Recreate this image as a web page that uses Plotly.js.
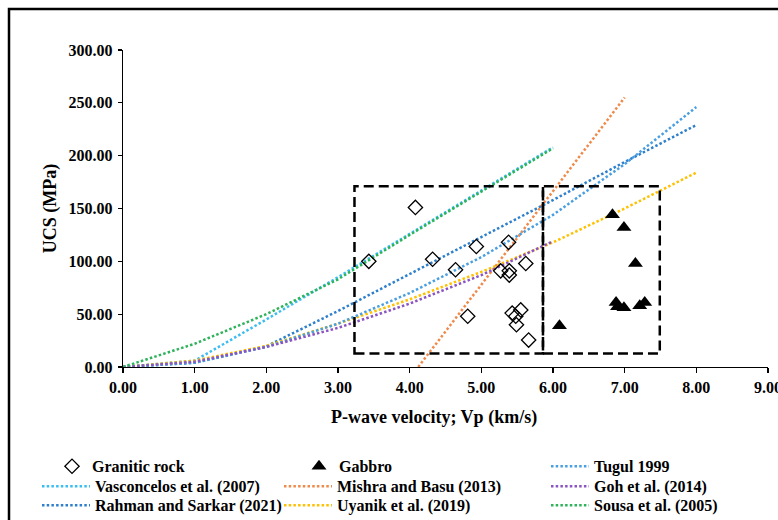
<!DOCTYPE html>
<html>
<head>
<meta charset="utf-8">
<script src="https://cdn.plot.ly/plotly-3.0.1.min.js"></script>
<style>html,body{margin:0;padding:0;background:#fff;}#chart{width:778px;height:520px;}</style>
</head>
<body>
<div id="chart"></div>
<script>
// ---- Data ----
const graniteVp  = [3.43, 4.08, 4.32, 4.93, 5.38, 4.64, 5.27, 5.39, 5.39, 5.62, 4.81, 5.43, 5.48, 5.55, 5.49, 5.66];
const graniteUCS = [100, 151, 102, 114, 118, 92, 91, 91, 87, 98, 48, 51, 48, 54, 40, 25.5];

const gabbroVp  = [6.83, 6.99, 7.15, 6.88, 6.90, 6.99, 7.21, 7.28, 6.09];
const gabbroUCS = [144, 132, 98, 61, 57, 56, 58, 61, 39];

const vpFull  = [0, 1, 2, 3, 4, 5, 6, 7, 8];
const vpShort = [0, 1, 2, 3, 4, 5, 6];
const tugulUCS       = [0, 4, 19, 41, 70, 104, 144, 192, 246];
const rahmanUCS      = [0, 4, 19.6, 53, 88, 123, 158, 194, 229];
const uyanikUCS      = [0, 6, 20, 41, 64, 90, 118, 150, 184];
const gohUCS         = [0, 5, 19, 37, 60, 87, 119];
const sousaUCS       = [0, 22, 50, 83, 125, 166, 207];
const vasconcelosUCS = [0, 6, 45, 85, 126, 167, 208];
const mishraVp  = [4, 5, 6, 7];
const mishraUCS = [-10.6, 78, 166.5, 255];

// dashed boxes (Vp, UCS)
const boxGraniteVp = [3.23, 5.86];
const boxGabbroVp  = [5.86, 7.49];
const boxUCS       = [12.7, 171];

const xTickVals = [0, 1, 2, 3, 4, 5, 6, 7, 8, 9];
const yTickVals = [0, 50, 100, 150, 200, 250, 300];
const xTitle = 'P-wave velocity; Vp (km/s)';
const yTitle = 'UCS (MPa)';

// ---- Styling ----
const serif = '"Liberation Serif", "Times New Roman", serif';
const dot = '2.5px,2.2px';
const PL = 123, PW = 645, PB = 367.5, PH = 317.5;   // plot area in px
function px2x(p) { return (p - PL) / PW; }
function px2y(p) { return (PB - p) / PH; }

function lineTrace(name, x, y, color, legend) {
  return {type: 'scatter', mode: 'lines', name: name, x: x, y: y, legend: legend,
          line: {color: color, width: 2.5, dash: dot}, hoverinfo: 'skip'};
}

const traces = [
  lineTrace('Vasconcelos et al. (2007)', vpShort, vasconcelosUCS, '#3BBDF2', 'legend2'),
  lineTrace('Rahman and Sarkar (2021)', vpFull, rahmanUCS, '#2F80CC', 'legend3'),
  lineTrace('Mishra and Basu (2013)', mishraVp, mishraUCS, '#F08A4B', 'legend5'),
  lineTrace('Uyanik et al. (2019)', vpFull, uyanikUCS, '#FFC000', 'legend6'),
  lineTrace('Tugul 1999', vpFull, tugulUCS, '#4A9FE0', 'legend7'),
  lineTrace('Goh et al. (2014)', vpShort, gohUCS, '#8A55C2', 'legend8'),
  lineTrace('Sousa et al. (2005)', vpShort, sousaUCS, '#2DB35A', 'legend9'),
  {type: 'scatter', mode: 'markers', name: 'Granitic rock', x: graniteVp, y: graniteUCS, legend: 'legend',
   marker: {symbol: 'diamond-open', size: 11, color: '#000', line: {color: '#000', width: 1.3}}},
  {type: 'scatter', mode: 'markers', name: 'Gabbro', x: gabbroVp, y: gabbroUCS, legend: 'legend4',
   marker: {symbol: 'triangle-up', size: 13, color: '#000'}}
];

const legFont = {family: serif, size: 16, weight: 'bold', color: '#000'};
function leg(pxLeft, pyMid, iw) {
  return {x: px2x(pxLeft), y: px2y(pyMid), xanchor: 'left', yanchor: 'middle', orientation: 'v',
          font: legFont, bgcolor: 'rgba(0,0,0,0)', itemwidth: iw, borderwidth: 0};
}
const rowY = [467, 487, 506];

function box(xs) {
  return {type: 'rect', xref: 'x', yref: 'y', x0: xs[0], x1: xs[1], y0: boxUCS[0], y1: boxUCS[1],
          line: {color: '#000', width: 2.5, dash: '10px,5px'}, fillcolor: 'rgba(0,0,0,0)'};
}

const tickFont = {family: serif, size: 16, weight: 'bold', color: '#000'};
const titleFont = {family: serif, size: 18, weight: 'bold', color: '#000'};

const layout = {
  width: 778, height: 520,
  margin: {l: PL, r: 778 - PL - PW, t: PB - PH, b: 520 - PB, autoexpand: false},
  paper_bgcolor: '#fff', plot_bgcolor: '#fff',
  font: {family: serif, color: '#000'},
  showlegend: true,
  xaxis: {
    range: [0, 9], tickvals: xTickVals, tickformat: '.2f', ticklabeloverflow: 'allow',
    showgrid: false, zeroline: false, showline: true, linecolor: '#000', linewidth: 1.3,
    ticks: 'outside', ticklen: 5, tickcolor: '#000', tickwidth: 1.3,
    tickfont: tickFont
  },
  yaxis: {
    range: [0, 300], tickvals: yTickVals, tickformat: '.2f',
    showgrid: false, zeroline: false, showline: true, linecolor: '#000', linewidth: 1.3,
    ticks: 'outside', ticklen: 4, tickcolor: '#000', tickwidth: 1.3, ticklabelstandoff: 2,
    tickfont: tickFont,
    title: {text: yTitle, standoff: 7, font: titleFont}
  },
  annotations: [
    {text: xTitle, xref: 'paper', yref: 'paper', x: px2x(434), y: px2y(418),
     xanchor: 'center', yanchor: 'middle', showarrow: false, font: titleFont}
  ],
  legend:  leg(52, rowY[0], 30),
  legend2: leg(37, rowY[1], 48),
  legend3: leg(37, rowY[2], 48),
  legend4: leg(299, rowY[0], 30),
  legend5: leg(279, rowY[1], 48),
  legend6: leg(279, rowY[2], 48),
  legend7: leg(546, rowY[0], 38),
  legend8: leg(546, rowY[1], 38),
  legend9: leg(546, rowY[2], 38),
  shapes: [
    box(boxGraniteVp), box(boxGabbroVp),
    {type: 'rect', xref: 'paper', yref: 'paper', x0: px2x(9), x1: 2, y0: -1, y1: px2y(9),
     line: {color: '#000', width: 2.5}, fillcolor: 'rgba(0,0,0,0)', layer: 'below'}
  ]
};

Plotly.newPlot('chart', traces, layout, {displayModeBar: false, staticPlot: true});
</script>
</body>
</html>
